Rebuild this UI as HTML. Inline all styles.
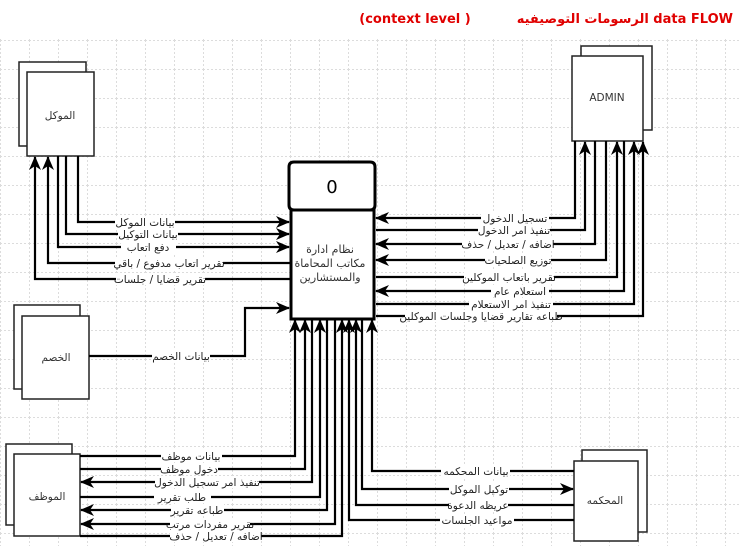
<!DOCTYPE html>
<html><head><meta charset="utf-8"><style>
html,body{margin:0;padding:0;background:#fff}
svg{display:block}
text{font-family:"DejaVu Sans","Liberation Sans",sans-serif}
.l{font-size:10.5px;fill:#222;text-anchor:middle}
</style></head><body>
<svg width="739" height="546" viewBox="0 0 739 546" xmlns="http://www.w3.org/2000/svg">
<defs>
<pattern id="g" width="29" height="29" patternUnits="userSpaceOnUse" x="0" y="40">
<path d="M0 0.5H29M0.5 0V29" fill="none" stroke="#dcdcdc" stroke-width="1" stroke-dasharray="2,2"/>
</pattern>
<marker id="a" markerWidth="14" markerHeight="12" refX="13" refY="6" orient="auto" markerUnits="userSpaceOnUse">
<path d="M0 0L14 6L0 12L4 6Z" fill="#000"/>
</marker>
</defs>
<rect x="0" y="38" width="739" height="508" fill="url(#g)"/>
<text x="733" y="23" font-size="13" font-weight="bold" fill="#e00000" text-anchor="end" font-family="Liberation Sans, DejaVu Sans, sans-serif">الرسومات التوصيفيه data FLOW</text>
<text x="415" y="23" font-size="13" font-weight="bold" fill="#e00000" text-anchor="middle" font-family="Liberation Sans, sans-serif">(context level )</text>

<g fill="#fff" stroke="#222" stroke-width="1.5">
<rect x="19" y="62" width="67" height="84"/><rect x="27" y="72" width="67" height="84"/>
<rect x="581" y="46" width="71" height="84"/><rect x="572" y="56" width="71" height="85"/>
<rect x="14" y="305" width="66" height="84"/><rect x="22" y="316" width="67" height="83"/>
<rect x="6" y="444" width="66" height="81"/><rect x="14" y="454" width="66" height="82"/>
<rect x="582" y="450" width="65" height="82"/><rect x="574" y="461" width="64" height="80"/>
</g>
<g font-size="10.5" fill="#333" text-anchor="middle">
<text x="60" y="119">الموكل</text>
<text x="607" y="101" font-family="Liberation Sans, sans-serif">ADMIN</text>
<text x="56" y="361">الخصم</text>
<text x="47" y="500">الموظف</text>
<text x="605" y="504">المحكمه</text>
</g>

<g fill="#fff" stroke="#000" stroke-width="3">
<path d="M294 162H370Q375 162 375 167V205Q375 210 370 210H294Q289 210 289 205V167Q289 162 294 162Z"/>
<rect x="291" y="210" width="83" height="109"/>
</g>
<text x="332" y="193" font-size="18" text-anchor="middle" fill="#000" font-family="Liberation Sans, sans-serif">0</text>
<g font-size="11" fill="#333" text-anchor="middle">
<text x="330" y="253">نظام ادارة</text>
<text x="330" y="267">مكاتب المحاماة</text>
<text x="330" y="281">والمستشارين</text>
</g>

<g fill="none" stroke="#000" stroke-width="2.2">
<path d="M78 156V222H289" marker-end="url(#a)"/>
<path d="M66 156V234H289" marker-end="url(#a)"/>
<path d="M58 156V247H289" marker-end="url(#a)"/>
<path d="M290 263H48V157" marker-end="url(#a)"/>
<path d="M290 279H35V157" marker-end="url(#a)"/>
<path d="M89 356H245V308H289" marker-end="url(#a)"/>
<path d="M575 141V218H376" marker-end="url(#a)"/>
<path d="M376 230H585V142" marker-end="url(#a)"/>
<path d="M595 141V244H376" marker-end="url(#a)"/>
<path d="M606 141V260H376" marker-end="url(#a)"/>
<path d="M376 277H617V142" marker-end="url(#a)"/>
<path d="M624 141V291H376" marker-end="url(#a)"/>
<path d="M376 304H634V142" marker-end="url(#a)"/>
<path d="M376 316H643V142" marker-end="url(#a)"/>
<path d="M80 456H295V320" marker-end="url(#a)"/>
<path d="M80 469H305V320" marker-end="url(#a)"/>
<path d="M312 320V482H81" marker-end="url(#a)"/>
<path d="M80 497H320V320" marker-end="url(#a)"/>
<path d="M327 320V510H81" marker-end="url(#a)"/>
<path d="M335 320V524H81" marker-end="url(#a)"/>
<path d="M80 536H342V320" marker-end="url(#a)"/>
<path d="M574 471H372V320" marker-end="url(#a)"/>
<path d="M362 320V489H573" marker-end="url(#a)"/>
<path d="M574 505H356V320" marker-end="url(#a)"/>
<path d="M574 520H349V320" marker-end="url(#a)"/>
</g>

<g fill="#fff">
<rect x="115" y="216" width="60" height="12"/>
<rect x="118" y="228" width="60" height="12"/>
<rect x="121" y="241" width="55" height="12"/>
<rect x="115" y="257" width="108" height="12"/>
<rect x="116" y="273" width="89" height="12"/>
<rect x="152" y="350" width="58" height="12"/>
<rect x="481" y="212" width="68" height="12"/>
<rect x="478" y="224" width="72" height="12"/>
<rect x="462" y="238" width="91" height="12"/>
<rect x="485" y="254" width="66" height="12"/>
<rect x="464" y="271" width="90" height="12"/>
<rect x="491" y="285" width="58" height="12"/>
<rect x="469" y="298" width="84" height="12"/>
<rect x="405" y="310" width="152" height="12"/>
<rect x="161" y="450" width="61" height="12"/>
<rect x="161" y="463" width="57" height="12"/>
<rect x="155" y="476" width="104" height="12"/>
<rect x="154" y="491" width="57" height="12"/>
<rect x="171" y="504" width="53" height="12"/>
<rect x="170" y="518" width="80" height="12"/>
<rect x="170" y="530" width="91" height="12"/>
<rect x="441" y="465" width="69" height="12"/>
<rect x="449" y="483" width="60" height="12"/>
<rect x="449" y="499" width="59" height="12"/>
<rect x="440" y="514" width="74" height="12"/>
</g>

<g class="l">
<text x="145" y="226">بيانات الموكل</text>
<text x="148" y="238">بيانات التوكيل</text>
<text x="148" y="251">دفع اتعاب</text>
<text x="169" y="267">تقرير اتعاب مدفوع /  باقي</text>
<text x="160" y="283">تقرير قضايا / جلسات</text>
<text x="181" y="360">بيانات الخصم</text>

<text x="515" y="222">تسجيل الدخول</text>
<text x="514" y="234">تنفيذ امر الدخول</text>
<text x="508" y="248">اضافه / تعديل / حذف</text>
<text x="518" y="264">توزيع الصلحيات</text>
<text x="509" y="281">تقرير باتعاب الموكلين</text>
<text x="520" y="295">استعلام عام</text>
<text x="511" y="308">تنفيذ امر الاستعلام</text>
<text x="481" y="320">طباعه تقارير قضايا وجلسات الموكلين</text>

<text x="191" y="460">بيانات موظف</text>
<text x="189" y="473">دخول موظف</text>
<text x="207" y="486">تنفيذ امر تسجيل الدخول</text>
<text x="182" y="501">طلب تقرير</text>
<text x="197" y="514">طباعه تقرير</text>
<text x="210" y="528">تقرير مفردات مرتب</text>
<text x="216" y="540">اضافه / تعديل / حذف</text>

<text x="476" y="475">بيانات المحكمه</text>
<text x="479" y="493">توكيل الموكل</text>
<text x="478" y="509">عريظه الدعوة</text>
<text x="477" y="524">مواعيد الجلسات</text>
</g>
</svg>
</body></html>
